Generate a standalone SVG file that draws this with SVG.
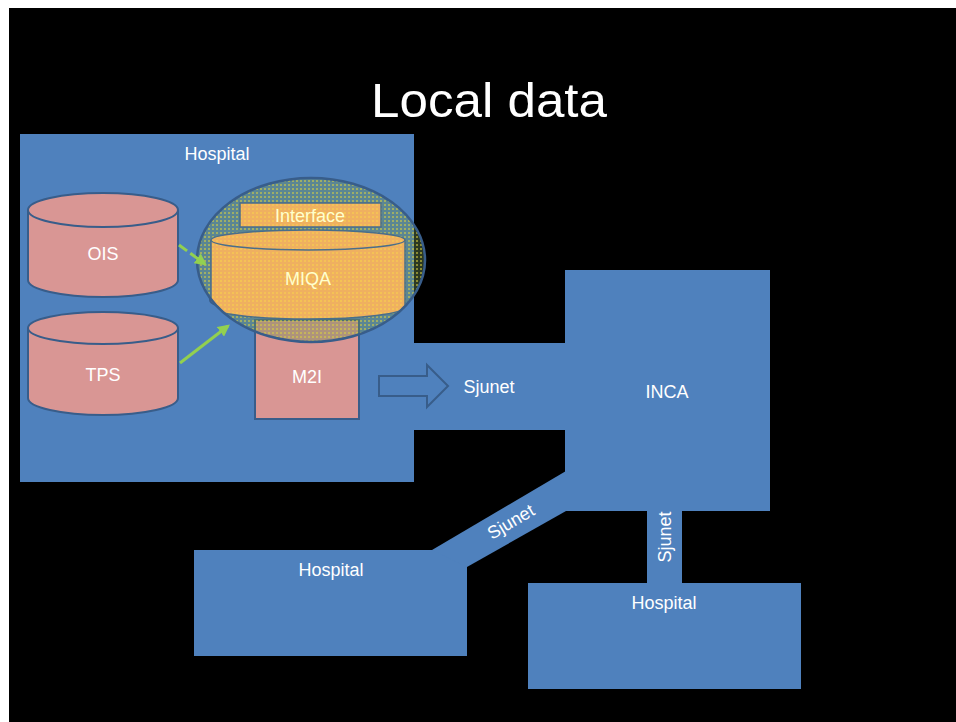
<svg xmlns="http://www.w3.org/2000/svg" width="956" height="722" viewBox="0 0 956 722">
<defs>
<style>
.bl{fill:#4F81BD}
.db{fill:#D99694;stroke:#385D8A;stroke-width:2}
.t{font-family:"Liberation Sans",Arial,sans-serif;fill:#FFFFFF;font-size:18px;text-anchor:middle}
.y{fill:#FFFFCC}
.g{stroke:#92D050;stroke-width:3;fill:none}
.o{fill:url(#odots);stroke:#4A6E8A;stroke-width:1.5}
</style>
<pattern id="dots" width="4" height="4" patternUnits="userSpaceOnUse">
<rect width="4" height="4" fill="#6F8F55" fill-opacity="0.4"/>
<rect width="2" height="2" fill="#D6CF42" fill-opacity="0.55"/>
</pattern>
<pattern id="odots" width="4" height="4" patternUnits="userSpaceOnUse">
<rect width="4" height="4" fill="#EFB060"/>
<rect width="2" height="2" fill="#F4C255"/>
</pattern>
<clipPath id="ec"><ellipse cx="311" cy="260" rx="113" ry="81"/></clipPath>
<marker id="ga" viewBox="0 0 10 10" refX="8" refY="5" markerWidth="4" markerHeight="4" orient="auto">
<path d="M0,0 L10,5 L0,10 z" fill="#92D050"/>
</marker>
</defs>
<rect width="956" height="722" fill="#FFFFFF"/>
<rect x="9" y="8" width="947" height="714" fill="#000000"/>
<text x="489" y="117" font-family="'Liberation Sans',Arial,sans-serif" font-size="48" fill="#FFFFFF" text-anchor="middle" textLength="236" lengthAdjust="spacingAndGlyphs">Local data</text>

<g id="hospital-main">
<rect class="bl" x="20" y="134" width="394" height="348"/>
<text class="t" x="217" y="160">Hospital</text>
</g>

<g id="ois">
<path class="db" d="M28,210 V280 A75,17 0 0 0 178,280 V210"/>
<ellipse class="db" cx="103" cy="210" rx="75" ry="17"/>
<text class="t" x="103" y="260">OIS</text>
</g>

<g id="tps">
<path class="db" d="M28,328 V398 A75,17 0 0 0 178,398 V328"/>
<ellipse class="db" cx="103" cy="328" rx="75" ry="16"/>
<text class="t" x="103" y="381">TPS</text>
</g>

<g id="m2i">
<rect class="db" x="255" y="320" width="104" height="99"/>
<ellipse class="db" cx="300" cy="300" rx="90" ry="14"/>
<text class="t" x="307" y="383">M2I</text>
</g>

<g id="miqa">
<ellipse cx="311" cy="260" rx="114" ry="82" fill="url(#dots)"/>
<g clip-path="url(#ec)">
<path class="o" d="M211,240 V307 A97,12 0 0 0 405,307 V240"/>
<ellipse class="o" cx="308" cy="240" rx="97" ry="10"/>
<rect class="o" x="240" y="203" width="141" height="24"/>
</g>
<ellipse cx="311" cy="260" rx="114" ry="82" fill="none" stroke="#385D8A" stroke-width="2.5"/>
<text class="t y" x="310" y="222">Interface</text>
<text class="t y" x="308" y="285">MIQA</text>
</g>

<g id="inca">
<rect class="bl" x="565" y="270" width="205" height="241"/>
<text class="t" x="667" y="398">INCA</text>
</g>

<g id="hospital-left">
<rect class="bl" x="194" y="550" width="273" height="106"/>
<text class="t" x="331" y="576">Hospital</text>
</g>

<g id="hospital-right">
<rect class="bl" x="528" y="583" width="273" height="106"/>
<text class="t" x="664" y="609">Hospital</text>
</g>

<g id="connectors">
<rect class="bl" x="413" y="343" width="153" height="87"/>
<polygon class="bl" points="432,550 566,471 566,511 467,567"/>
<rect class="bl" x="647" y="510" width="35" height="74"/>
<text class="t" transform="translate(514,527) rotate(-30.7)" font-size="18">Sjunet</text>
<text class="t" transform="translate(671,537) rotate(-90)" font-size="18">Sjunet</text>
<text class="t" x="489" y="393">Sjunet</text>
<path d="M379,376 H427 V365 L448,386 L427,407 V396 H379 Z" fill="none" stroke="#385D8A" stroke-width="2"/>
<line class="g" x1="179" y1="245" x2="205" y2="264" stroke-dasharray="10,4" marker-end="url(#ga)"/>
<line class="g" x1="180" y1="363" x2="228" y2="326" marker-end="url(#ga)"/>
</g>
</svg>
